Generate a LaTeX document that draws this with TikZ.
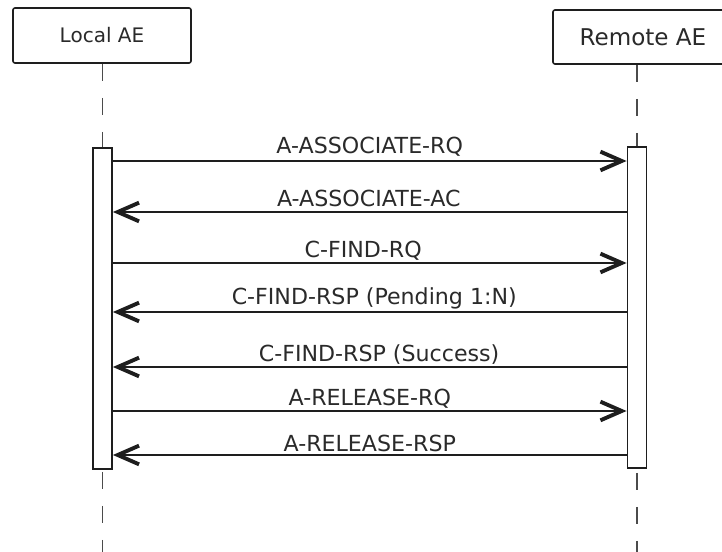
\documentclass[tikz,border=0pt]{standalone}
\usepackage{fontspec}
\setmainfont{DejaVu Sans}
\usetikzlibrary{arrows.meta}
\definecolor{ink}{HTML}{1E1E1E}
\definecolor{txt}{HTML}{2A2A2A}
\begin{document}
\begin{tikzpicture}[x=0.75pt,y=-0.75pt,
  actor/.style={draw=ink,line width=1.2pt,fill=white,rounded corners=1.5pt,inner sep=0pt,text=txt},
  bar/.style={draw=ink,line width=1.1pt,fill=white,minimum width=14.5pt,minimum height=240.75pt,inner sep=0pt},
  life/.style={draw=ink!80,line width=1.4pt,dash pattern=on 12.75pt off 12.75pt},
  msg/.style={draw=ink,line width=2pt,-{Straight Barb[length=16pt,width=14pt,line width=2.9pt]}},
  lbl/.style={anchor=base,text=txt,inner sep=0pt,yshift=3.75pt,font=\fontsize{16.6}{19}\selectfont}
]
\clip (0,0) rectangle (722,552);
\fill[white] (0,0) rectangle (722,552);

% participants
\node[actor,minimum width=133.5pt,minimum height=41.25pt,font=\fontsize{15}{18}\selectfont] (local) at (102,35.5) {Local AE};
\node[actor,minimum width=135pt,minimum height=40.5pt,font=\fontsize{17.3}{20}\selectfont] (remote) at (643,37) {Remote AE};

% lifelines, then the activation bars drawn over them
\coordinate (bottom) at (0,560);
\path (102.5,308.5) coordinate (lc) (637,307.5) coordinate (rc);
\draw[life] (local.south -| lc) -- (bottom -| lc);
\draw[life] (remote.south -| rc) -- (bottom -| rc);
\node[bar] (la) at (lc) {};
\node[bar] (ra) at (rc) {};

% message rows
\coordinate (m1) at (0,161);
\coordinate (m2) at (0,212);
\coordinate (m3) at (0,263);
\coordinate (m4) at (0,312);
\coordinate (m5) at (0,367);
\coordinate (m6) at (0,411);
\coordinate (m7) at (0,455);

\draw[msg] (la.east |- m1) -- node[lbl,yshift=1.5pt] (l1) {A-ASSOCIATE-RQ} (ra.west |- m1);
\draw[msg] (ra.west |- m2) -- node[lbl,xshift=-0.75pt] (l2) {A-ASSOCIATE-AC} (la.east |- m2);
\draw[msg] (la.east |- m3) -- node[lbl,xshift=-4.9pt] (l3) {C-FIND-RQ} (ra.west |- m3);
\draw[msg] (ra.west |- m4) -- node[lbl,xshift=3.4pt,yshift=1.5pt] (l4) {C-FIND-RSP (Pending 1:N)} (la.east |- m4);
\draw[msg] (ra.west |- m5) -- node[lbl,xshift=7pt] (l5) {C-FIND-RSP (Success)} (la.east |- m5);
\draw[msg] (la.east |- m6) -- node[lbl] (l6) {A-RELEASE-RQ} (ra.west |- m6);
\draw[msg] (ra.west |- m7) -- node[lbl,yshift=-1.5pt] (l7) {A-RELEASE-RSP} (la.east |- m7);
\end{tikzpicture}
\end{document}
